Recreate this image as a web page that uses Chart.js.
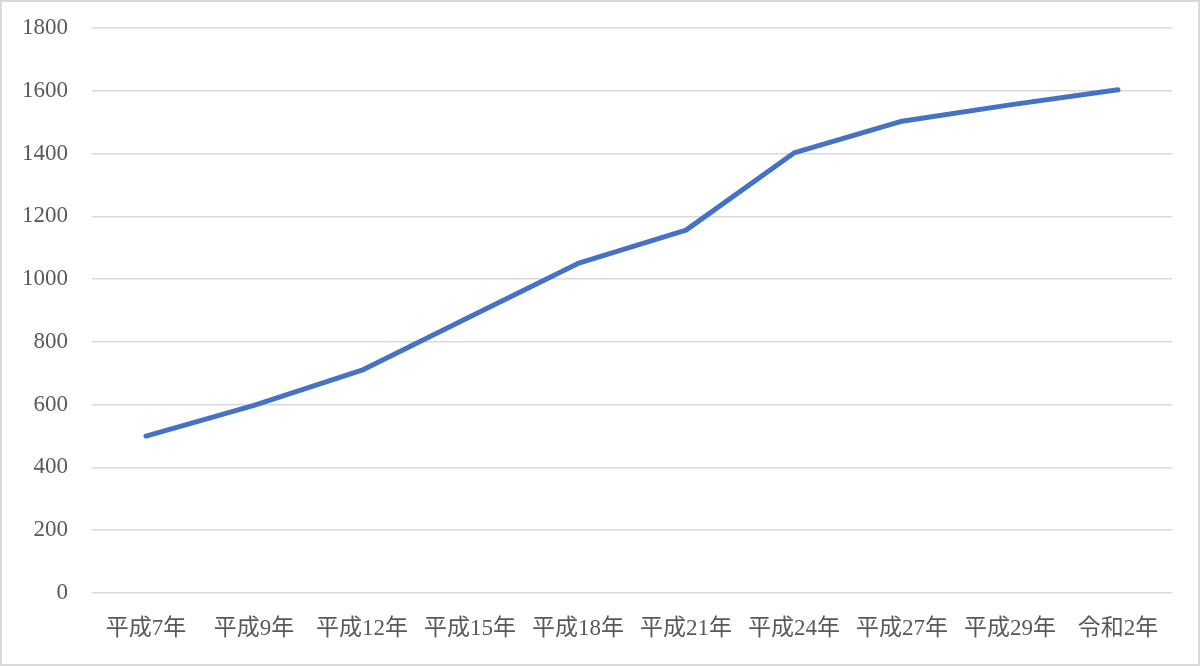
<!DOCTYPE html>
<html>
<head>
<meta charset="utf-8">
<script src="https://cdn.jsdelivr.net/npm/chart.js@4"></script>
<style>
  html, body { margin: 0; padding: 0; background: #fff; }
  #wrap { position: relative; width: 1200px; height: 666px; }
  #frame { position: absolute; left: 0; top: 0; width: 1200px; height: 666px;
           box-sizing: border-box; border: 2px solid #d9d9d9; pointer-events: none; }
</style>
</head>
<body>
<div id="wrap">
  <canvas id="lineChart" width="1200" height="666"></canvas>
  <div id="frame"></div>
</div>
<script>
// Values
const years = ['平成7年', '平成9年', '平成12年', '平成15年', '平成18年', '平成21年', '平成24年', '平成27年', '平成29年', '令和2年'];
const counts = [500, 598, 710, 880, 1050, 1156, 1402, 1503, 1555, 1603];
const yTicks = [0, 200, 400, 600, 800, 1000, 1200, 1400, 1600, 1800];

const textColor = '#595959';
const gridColor = '#d9d9d9';
const labelFont = { family: '"Liberation Serif", "DejaVu Serif", "Noto Sans CJK JP", serif', size: 23 };

new Chart(document.getElementById('lineChart'), {
    type: 'line',
    data: {
        labels: years,
        datasets: [{
            data: counts,
            borderColor: '#4472c4',
            borderWidth: 5,
            borderCapStyle: 'round',
            borderJoinStyle: 'round',
            pointRadius: 0,
            tension: 0,
            fill: false
        }]
    },
    options: {
        responsive: false,
        animation: false,
        layout: { padding: { top: 28, right: 28, bottom: 0, left: 0 } },
        scales: {
            x: {
                offset: true,
                grid: { display: false, drawTicks: false },
                border: { display: false },
                ticks: { color: textColor, font: labelFont, padding: 22, maxRotation: 0, autoSkip: false },
                afterFit: s => { s.height = 73; s.paddingLeft = 0; s.paddingRight = 0; }
            },
            y: {
                min: 0,
                max: 1800,
                afterBuildTicks: s => { s.ticks = yTicks.map(v => ({ value: v })); },
                grid: { color: gridColor, lineWidth: 1.5, drawTicks: false },
                border: { display: false },
                ticks: { color: textColor, font: labelFont, padding: 24, callback: v => String(v) },
                afterFit: s => { s.width = 92; s.paddingTop = 0; s.paddingBottom = 0; }
            }
        },
        plugins: {
            legend: { display: false },
            tooltip: { enabled: false }
        }
    }
});
</script>
</body>
</html>
